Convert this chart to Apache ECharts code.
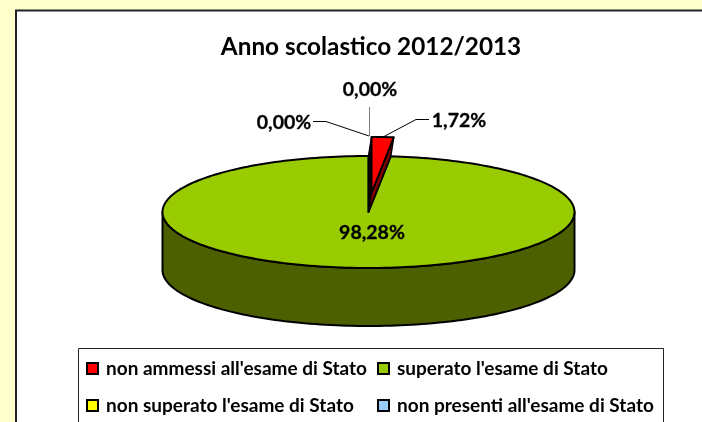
<!DOCTYPE html>
<html>
<head>
<meta charset="utf-8">
<title>Anno scolastico 2012/2013</title>
<script src="https://cdn.jsdelivr.net/npm/echarts@6/dist/echarts.min.js"></script>
<style>
  html, body { margin: 0; padding: 0; background: #ffffcc; }
  #chart { width: 702px; height: 422px; }
</style>
</head>
<body>
<div id="chart"></div>
<script>
var categories = [
  'non ammessi all\'esame di Stato',
  'superato l\'esame di Stato',
  'non superato l\'esame di Stato',
  'non presenti all\'esame di Stato'
];
var values = [1.72, 98.28, 0, 0];
var colors = ['#ff0000', '#99cc00', '#ffff00', '#99ccff'];
var wallColors = ['#800000', '#4d6000', '#808000', '#4d6680'];

var font = 'Lato, Carlito, "Open Sans", sans-serif';
var pie = { cx: 368.5, cy: 212, rx: 206, ry: 56, depth: 58 };
var lift = { x: 3, y: -19 };   // the red slice sits raised off the disc

// start angle of a slice, degrees clockwise from 12 o'clock
function sliceStart(i) {
  var total = values.reduce(function(a, b) { return a + b; }, 0);
  var sum = 0;
  for (var k = 0; k < i; k++) sum += values[k];
  return sum / total * 360;
}

function rim(deg, dx, dy) {
  var a = deg * Math.PI / 180;
  return [pie.cx + (dx || 0) + pie.rx * Math.sin(a), pie.cy + (dy || 0) - pie.ry * Math.cos(a)];
}

function arc(from, to, dx, dy) {
  var pts = [];
  var n = Math.max(2, Math.ceil((to - from) / 1.5));
  for (var i = 0; i <= n; i++) pts.push(rim(from + (to - from) * i / n, dx, dy));
  return pts;
}

function poly(points, fill, width) {
  return {
    type: 'polygon',
    shape: { points: points },
    style: { fill: fill, stroke: '#000', lineWidth: width === undefined ? 2 : width, lineJoin: 'round' }
  };
}

function label(text, x, y) {
  return {
    type: 'text',
    style: {
      text: text, x: x, y: y, fill: '#000', font: 'bold 19.5px ' + font,
      align: 'center', verticalAlign: 'middle', stroke: '#000', lineWidth: 0.3
    }
  };
}

function leader(points, color) {
  return {
    type: 'polyline',
    shape: { points: points },
    style: { fill: 'none', stroke: color, lineWidth: 1 }
  };
}

function pct(v) {
  return v.toFixed(2).replace('.', ',') + '%';
}

// each slice draws its faces from its own value
function renderSlice(params, api) {
  var i = params.seriesIndex;
  var v = api.value(0);
  var a0 = sliceStart(i);
  var a1 = a0 + v / 100 * 360;
  var kids = [];
  if (i === 0) {
    var top = arc(a0, a1, lift.x, lift.y);
    var apex = [pie.cx + lift.x, pie.cy + lift.y];
    kids.push(poly([rim(a0, lift.x, lift.y), rim(a0), [pie.cx, pie.cy], apex], '#000', 1.5));
    kids.push(poly([rim(a1, lift.x, lift.y), rim(a1), [pie.cx, pie.cy], apex], wallColors[0], 1.5));
    kids.push(poly([apex].concat(top), colors[0]));
    kids.push(label(pct(v), 459, 121));
    kids.push(leader([[384, 136.5], [416, 119.5], [429, 119.5]], '#000'));
  } else if (i === 1) {
    var front = arc(Math.max(a0, 90), Math.min(a1, 270));
    var back = arc(Math.max(a0, 90), Math.min(a1, 270), 0, pie.depth).reverse();
    kids.push(poly(front.concat(back), wallColors[1]));
    kids.push(poly([[pie.cx, pie.cy]].concat(arc(a0, a1)), colors[1]));
    kids.push(label(pct(v), 372, 233));
  } else if (i === 2) {
    kids.push(label(pct(v), 284, 123));
    kids.push(leader([[369, 136], [326, 121.5], [313, 121.5]], '#000'));
  } else {
    kids.push(label(pct(v), 370, 90));
    kids.push(leader([[369.5, 136], [369.5, 107]], '#808080'));
  }
  return { type: 'group', children: kids };
}

// green goes down first so the raised red slice lands on top of it
var order = [1, 0, 2, 3];
var series = categories.map(function(name, i) {
  return {
    type: 'custom',
    name: name,
    coordinateSystem: 'none',
    z: order.indexOf(i) + 2,
    data: [[values[i]]],
    itemStyle: { color: colors[i] },
    renderItem: renderSlice,
    silent: true
  };
});

function legendColumn(names, left) {
  return {
    data: names,
    orient: 'vertical',
    left: left,
    top: 359,
    padding: 0,
    itemGap: 18,
    itemWidth: 11,
    itemHeight: 11,
    icon: 'rect',
    selectedMode: false,
    itemStyle: { borderColor: '#000', borderWidth: 2 },
    textStyle: { color: '#000', fontFamily: font, fontWeight: 'bold', fontSize: 19, padding: [0, 0, 0, 3] }
  };
}

var chart = echarts.init(document.getElementById('chart'), null, { renderer: 'canvas' });
chart.setOption({
  animation: false,
  backgroundColor: '#ffffcc',
  title: {
    text: 'Anno scolastico 2012/2013',
    left: 371,
    top: 35,
    textAlign: 'center',
    padding: 0,
    textStyle: { color: '#000', fontFamily: font, fontWeight: 'bold', fontSize: 24.3 }
  },
  legend: [
    legendColumn([categories[0], categories[2]], 86),
    legendColumn([categories[1], categories[3]], 377)
  ],
  graphic: [
    { type: 'rect', z: 0, shape: { x: 16, y: 10.5, width: 720, height: 420 }, style: { fill: '#fff', stroke: '#222', lineWidth: 2 } },
    { type: 'rect', z: 1, shape: { x: 78.5, y: 348.5, width: 585, height: 90 }, style: { fill: '#fff', stroke: '#222', lineWidth: 1 } }
  ],
  series: series
});
window.addEventListener('resize', function() { chart.resize(); });
</script>
</body>
</html>
